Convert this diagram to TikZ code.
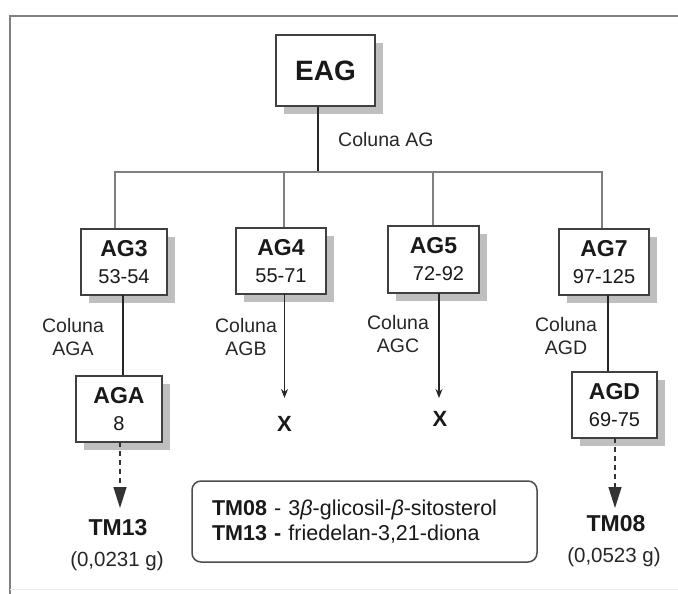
\documentclass[tikz,border=0pt]{standalone}
\usepackage{fontspec}
\setmainfont{Liberation Sans}
\usetikzlibrary{arrows.meta,shadows}

\tikzset{
  frame/.style={draw=black!50, line width=2pt},
  box/.style={draw=black!75, line width=1.6pt, fill=white, inner sep=0pt,
    align=center, text=black!90, font=\fontsize{20}{27}\selectfont,
    drop shadow={shadow xshift=8pt, shadow yshift=-8pt, fill=black!25, opacity=1}},
  bus/.style={draw=black!50, line width=2pt},
  link/.style={draw=black!85, line width=1.2pt},
  stoparrow/.style={link, -{Stealth[length=9pt,width=7pt]}},
  yieldarrow/.style={draw=black!80, line width=1.3pt, dash pattern=on 5pt off 4pt,
    -{Triangle[length=21pt,width=13pt]}},
  lbl/.style={font=\fontsize{19.5}{22.5}\selectfont, align=center, text=black!85, inner sep=0pt},
  prod/.style={font=\fontsize{23}{26}\selectfont\bfseries, text=black!90, inner sep=0pt},
  mass/.style={font=\fontsize{20.5}{24}\selectfont, text=black!85, inner sep=0pt},
  stopmark/.style={font=\fontsize{22}{24}\selectfont\bfseries, text=black!90, inner sep=0pt},
  legend/.style={draw=black!70, line width=1.5pt, rounded corners=9pt, inner xsep=20pt,
    inner ysep=0pt, align=left, text width=305pt, minimum height=81pt,
    font=\fontsize{21.5}{25}\selectfont, text=black!90}
}
\newcommand{\fracbox}[2]{{\fontsize{23}{27}\selectfont\bfseries #1}\\#2}

\begin{document}
\begin{tikzpicture}[x=1pt,y=-1pt]
\useasboundingbox (0,0) rectangle (678,594);

% open frame (top and left sides)
\draw[frame] (10,594) -- (10,16) -- (678,16);
\draw[draw=black!7, line width=1pt] (10,589) -- (678,589);

% crude extract
\node[box, minimum width=99pt, minimum height=71pt,
      font=\fontsize{28}{30}\selectfont\bfseries] (EAG) at (325.5,70.5) {EAG};

% fractions from column AG
\node[box, minimum width=86pt, minimum height=66pt] (AG3) at (124,262)   {\fracbox{AG3}{53-54}};
\node[box, minimum width=90pt, minimum height=66pt] (AG4) at (281,261)   {\fracbox{AG4}{55-71}};
\node[box, minimum width=91pt, minimum height=67pt] (AG5) at (433.5,259.5) {\fracbox{AG5}{\hspace*{10pt}72-92}};
\node[box, minimum width=90pt, minimum height=66pt] (AG7) at (604,262)   {\fracbox{AG7}{97-125}};

% sub-fractions
\node[box, minimum width=86pt, minimum height=66pt] (AGA) at (119,409)   {\fracbox{AGA}{8}};
\node[box, minimum width=85pt, minimum height=66pt] (AGD) at (614.5,405) {\fracbox{AGD}{69-75}};

% bus junctions
\coordinate (j0) at (318,172);
\coordinate (j3) at (115,172);
\coordinate (j4) at (284,172);
\coordinate (j5) at (433,172);
\coordinate (j7) at (602,172);

\draw[link] (EAG.south -| j0) -- (j0);
\node[lbl, anchor=west] (colAG) at (338,140) {Coluna AG};

\draw[bus] (AG3.north -| j3) -- (j3) -- (j7) -- (AG7.north -| j7);
\draw[bus] (j4) -- (AG4.north -| j4);
\draw[bus] (j5) -- (AG5.north -| j5);

% second columns
\coordinate (a3) at (123,295);
\coordinate (a7) at (608,295);
\draw[link] (a3) -- (a3 |- AGA.north);
\draw[link] (a7) -- (a7 |- AGD.north);
\node[lbl] (colAGA) at (73,337)  {Coluna\\AGA};
\node[lbl] (colAGB) at (246,337) {Coluna\\AGB};
\node[lbl] (colAGC) at (398,334) {Coluna\\AGC};
\node[lbl] (colAGD) at (566,336) {Coluna\\AGD};

% dead ends
\coordinate (a4) at (284.5,294);
\coordinate (a5) at (439,293);
\coordinate (t4) at (284.5,398);
\coordinate (t5) at (439,398);
\draw[stoparrow] (a4) -- (t4);
\draw[stoparrow] (a5) -- (t5);
\node[stopmark] (x4) at (284.5,424) {X};
\node[stopmark] (x5) at (440,419) {X};

% isolated compounds
\coordinate (dA) at (120,442);
\coordinate (dD) at (615,438);
\coordinate (tA) at (120,508);
\coordinate (tD) at (615,508);
\draw[yieldarrow] (dA) -- (tA);
\draw[yieldarrow] (dD) -- (tD);
\node[prod] (TM13) at (118,528) {TM13};
\node[mass] (m13) at (117,561) {(0,0231 g)};
\node[prod] (TM08) at (616,524) {TM08};
\node[mass] (m08) at (614,557) {(0,0523 g)};

% key to the compounds
\node[legend] (key) at (364.5,521.5)
  {\textbf{TM08} - 3\textit{β}-glicosil-\textit{β}-sitosterol\\
   \textbf{TM13 -} friedelan-3,21-diona};
\end{tikzpicture}
\end{document}
